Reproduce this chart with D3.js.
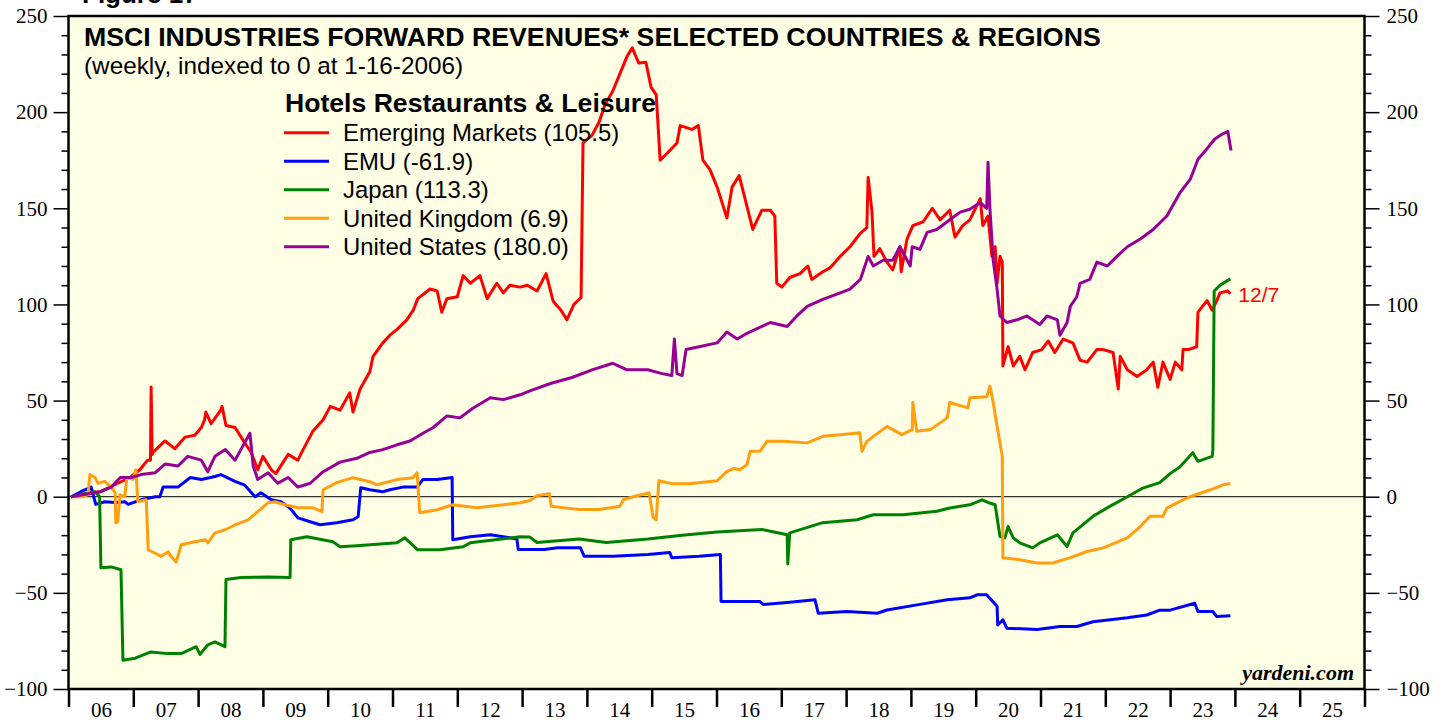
<!DOCTYPE html>
<html>
<head>
<meta charset="utf-8">
<script src="https://cdn.jsdelivr.net/npm/d3@7"></script>
<style>
  body { margin: 0; background: #fff; }
  svg { display: block; }
</style>
</head>
<body>
<script>
const width = 1440, height = 721;

// [decimal year, index value]
const emergingMarkets = [
  [2006.04,0],[2006.30,2],[2006.50,2.6],[2006.76,7],[2006.95,10],[2007.10,14],[2007.22,19],[2007.265,19],[2007.275,57],[2007.29,22],
  [2007.30,23],[2007.49,29],[2007.64,25],[2007.80,31],[2007.95,32],[2008.05,36],[2008.10,40],[2008.12,44],[2008.20,38],[2008.35,45],
  [2008.37,47],[2008.43,37],[2008.57,36],[2008.72,28],[2008.82,23],[2008.92,14],[2009.00,21],[2009.13,14],[2009.20,12],[2009.39,22],
  [2009.54,19],[2009.62,24.5],[2009.77,34],[2009.93,40],[2010.04,47],[2010.19,45],[2010.34,54],[2010.39,44],[2010.50,56],[2010.65,65],
  [2010.70,73],[2010.85,80],[2010.96,84],[2011.07,87],[2011.22,92],[2011.32,97],[2011.39,103],[2011.58,108],[2011.69,107],[2011.76,96],
  [2011.84,103],[2012.00,104],[2012.09,115],[2012.20,111],[2012.35,115],[2012.46,103],[2012.61,111],[2012.71,106],[2012.81,110],[2012.97,109],
  [2013.08,110],[2013.23,107],[2013.37,116],[2013.48,101.6],[2013.60,97],[2013.69,92],[2013.80,100],[2013.91,103.6],[2013.94,184],[2014.08,188],
  [2014.19,195],[2014.28,204],[2014.40,211],[2014.51,220],[2014.62,229],[2014.70,233.5],[2014.80,225.5],[2014.91,226],[2014.99,213],[2015.07,209],
  [2015.13,175],[2015.25,179],[2015.39,184],[2015.44,193],[2015.62,191],[2015.72,193],[2015.79,175],[2015.90,170],[2016.01,161],[2016.16,145],
  [2016.24,161],[2016.35,167],[2016.47,151],[2016.56,139],[2016.70,149],[2016.83,149],[2016.90,146],[2016.93,111],[2017.01,109],[2017.13,114],
  [2017.29,116],[2017.41,120],[2017.47,113],[2017.64,117],[2017.75,119],[2017.91,125],[2018.06,130],[2018.22,137],[2018.32,140],[2018.34,166],
  [2018.40,148],[2018.43,125],[2018.52,129],[2018.63,122],[2018.72,118],[2018.83,130],[2018.85,117],[2018.94,134],[2019.03,141],[2019.19,143],
  [2019.33,150],[2019.45,144],[2019.60,149],[2019.68,135],[2019.80,141],[2019.91,144],[2020.07,155],[2020.11,141],[2020.19,146],[2020.25,125],
  [2020.30,130],[2020.33,111],[2020.375,125],[2020.41,122],[2020.42,68],[2020.50,78],[2020.58,68],[2020.68,73],[2020.76,66],[2020.88,75],
  [2021.02,76.5],[2021.12,81],[2021.22,75],[2021.35,82],[2021.50,80],[2021.61,71],[2021.72,70],[2021.87,76.5],[2021.97,76.5],[2022.12,75],
  [2022.20,56],[2022.23,73],[2022.34,66],[2022.49,62.5],[2022.64,66],[2022.74,70],[2022.81,57],[2022.89,70],[2023.00,61],[2023.08,70],
  [2023.18,66],[2023.20,76.5],[2023.28,76.5],[2023.41,78],[2023.43,96],[2023.57,102],[2023.65,97],[2023.72,102],[2023.77,106],[2023.89,107],
  [2023.93,105.5]
];

const emu = [
  [2006.04,0],[2006.19,2.6],[2006.35,5],[2006.42,-4],[2006.56,-2.6],[2006.72,-3],[2006.87,-2.6],[2006.92,-4],[2007.12,-1.6],[2007.34,0],
  [2007.41,0],[2007.46,5],[2007.69,5],[2007.88,10],[2008.05,9],[2008.26,10.5],[2008.35,11.5],[2008.57,8],[2008.72,6],[2008.88,0],
  [2008.97,2],[2009.13,-1.6],[2009.28,-2.6],[2009.42,-6],[2009.54,-11],[2009.73,-13],[2009.88,-14.6],[2010.14,-13.5],[2010.39,-12],[2010.47,-10.4],
  [2010.51,4.7],[2010.65,3.6],[2010.85,2.6],[2010.96,3.6],[2011.16,5],[2011.38,5],[2011.47,9],[2011.69,9],[2011.92,10],[2011.93,-22.4],
  [2012.20,-20.8],[2012.51,-19.8],[2012.71,-20.8],[2012.92,-22],[2012.94,-27.4],[2013.34,-27.4],[2013.55,-26.6],[2013.90,-26.6],[2013.96,-31],[2014.40,-31],
  [2014.94,-30],[2015.28,-29],[2015.31,-31.8],[2015.73,-31],[2016.06,-30],[2016.07,-54.5],[2016.67,-54.5],[2016.72,-56],[2017.09,-55],[2017.52,-53.6],
  [2017.57,-60.6],[2018.01,-59.7],[2018.48,-60.6],[2018.63,-58.9],[2019.14,-56],[2019.56,-53.6],[2019.91,-52.6],[2020.02,-51],[2020.17,-51],[2020.33,-57],
  [2020.34,-66.7],[2020.42,-64],[2020.48,-68.4],[2020.95,-69],[2021.30,-67.5],[2021.56,-67.5],[2021.81,-65],[2022.34,-63],[2022.64,-61.5],[2022.84,-59],
  [2023.00,-59],[2023.38,-55.4],[2023.43,-59.7],[2023.66,-59.7],[2023.72,-62.3],[2023.93,-61.9]
];

const japan = [
  [2006.04,0],[2006.30,2],[2006.41,2.6],[2006.48,0],[2006.50,-37],[2006.66,-36.5],[2006.81,-38],[2006.84,-85],[2007.03,-84],[2007.27,-80.7],
  [2007.53,-81.6],[2007.74,-81.6],[2007.97,-78],[2008.03,-82],[2008.15,-77],[2008.26,-75.5],[2008.415,-78],[2008.43,-43],[2008.66,-42],[2009.08,-41.7],
  [2009.42,-42],[2009.43,-22.4],[2009.68,-20.8],[2010.08,-23.4],[2010.19,-26],[2010.45,-25.5],[2011.07,-24],[2011.19,-21.4],[2011.39,-27.6],[2011.73,-27.6],
  [2012.09,-26],[2012.20,-24],[2012.97,-20.8],[2013.12,-21],[2013.23,-23.8],[2013.88,-22],[2014.30,-23.8],[2014.94,-22],[2015.47,-20],[2016.01,-18.4],
  [2016.49,-17.5],[2016.70,-17],[2017.09,-19.8],[2017.10,-35],[2017.13,-18.8],[2017.64,-13.5],[2018.17,-12],[2018.42,-9.4],[2018.88,-9.4],[2019.40,-7.6],
  [2019.60,-5.9],[2019.91,-4.2],[2020.10,-1.6],[2020.19,-3],[2020.30,-4.2],[2020.375,-20.7],[2020.45,-21.4],[2020.50,-15.5],[2020.58,-21.4],[2020.68,-24],
  [2020.88,-26.6],[2020.99,-24],[2021.26,-19.8],[2021.41,-25.9],[2021.50,-18.8],[2021.81,-10.2],[2022.07,-5],[2022.34,0],[2022.58,4.5],[2022.84,7.3],
  [2023.00,12],[2023.15,15.5],[2023.35,22.9],[2023.43,18.4],[2023.65,21],[2023.66,24.5],[2023.68,107],[2023.77,110],[2023.93,113.3]
];

const unitedKingdom = [
  [2006.04,0],[2006.19,0],[2006.30,1],[2006.33,11.5],[2006.41,10],[2006.455,7],[2006.56,8],[2006.66,5],[2006.72,2],[2006.73,-13.5],
  [2006.76,-13],[2006.795,1],[2006.87,0],[2006.90,10],[2006.995,9],[2007.04,14],[2007.07,-2.6],[2007.20,-1.6],[2007.23,-27.6],[2007.43,-31],
  [2007.54,-28.6],[2007.58,-31],[2007.66,-34],[2007.74,-25],[2007.95,-23.4],[2008.11,-22.4],[2008.15,-24],[2008.26,-18.8],[2008.42,-17.2],[2008.57,-14.6],
  [2008.77,-12],[2008.92,-7.8],[2009.08,-3.1],[2009.19,-2.6],[2009.34,-4.2],[2009.54,-5.7],[2009.77,-5.7],[2009.91,-7.8],[2009.93,3.6],[2010.14,7.3],
  [2010.39,9.9],[2010.65,7.8],[2010.76,6.2],[2011.07,8.9],[2011.32,9.9],[2011.38,12.5],[2011.42,-8.3],[2011.69,-6.8],[2011.93,-4.2],[2012.30,-5.7],
  [2012.71,-4.2],[2012.97,-3.1],[2013.12,-2],[2013.23,0.5],[2013.42,1.6],[2013.45,-5],[2013.66,-5.8],[2013.88,-6.7],[2014.19,-6.7],[2014.51,-5],
  [2014.56,-1.6],[2014.77,0.5],[2014.96,2],[2015.02,-10.5],[2015.07,-12],[2015.11,8.3],[2015.31,6.8],[2015.58,6.8],[2015.79,7.5],[2016.01,8.3],
  [2016.16,13],[2016.27,14.7],[2016.36,14],[2016.47,16.7],[2016.52,23.6],[2016.67,23.6],[2016.78,28.8],[2017.03,28.8],[2017.40,28],[2017.64,31.4],
  [2017.95,32.3],[2018.21,33.3],[2018.245,23.6],[2018.32,28.8],[2018.63,36.6],[2018.86,32.3],[2019.02,34.9],[2019.03,49],[2019.09,34],[2019.30,34.9],
  [2019.56,41],[2019.60,49],[2019.80,47],[2019.88,46.3],[2019.91,51.5],[2020.17,52],[2020.22,57.5],[2020.27,49],[2020.33,36.6],[2020.41,21],
  [2020.42,-31.8],[2020.68,-32.8],[2020.95,-34.5],[2021.19,-34.5],[2021.45,-31.8],[2021.72,-28.5],[2021.97,-26.6],[2022.34,-21.4],[2022.54,-15.5],[2022.69,-10.2],
  [2022.89,-10.2],[2022.95,-5.9],[2023.15,-2.4],[2023.31,0],[2023.62,3.6],[2023.82,6.2],[2023.93,6.9]
];

const unitedStates = [
  [2006.04,0],[2006.49,2.6],[2006.66,5],[2006.80,10],[2006.97,10],[2007.12,11.5],[2007.34,12.5],[2007.49,17],[2007.69,16],[2007.84,21],
  [2008.05,19],[2008.15,13],[2008.26,21],[2008.42,24.5],[2008.57,19],[2008.66,24.5],[2008.80,33],[2008.85,16],[2008.92,9],[2009.08,12.5],
  [2009.23,7],[2009.39,10],[2009.54,5],[2009.73,7],[2009.93,13],[2010.19,18],[2010.45,20],[2010.65,23],[2010.85,24.5],[2011.07,27],
  [2011.27,29],[2011.47,33],[2011.63,36],[2011.84,42],[2012.04,41],[2012.24,46],[2012.51,51.5],[2012.71,50.5],[2012.97,53],[2013.12,55],
  [2013.45,59],[2013.77,62],[2014.08,66],[2014.40,69.4],[2014.62,66],[2014.94,66],[2015.16,64],[2015.31,63],[2015.35,82],[2015.39,64],
  [2015.47,63],[2015.53,76.6],[2015.73,78],[2016.01,80],[2016.16,85.6],[2016.32,82],[2016.47,85],[2016.83,90.6],[2017.09,88.5],[2017.24,94],
  [2017.40,99],[2017.64,102.6],[2017.91,106],[2018.06,108],[2018.22,113],[2018.34,125],[2018.42,120],[2018.57,123],[2018.72,123],[2018.83,130],
  [2018.99,120],[2019.02,130],[2019.14,128.6],[2019.25,137.5],[2019.40,139],[2019.56,143],[2019.76,148],[2019.91,149.5],[2020.07,153],[2020.17,150],
  [2020.19,174],[2020.22,149.5],[2020.27,123],[2020.33,108],[2020.375,94],[2020.48,90.6],[2020.64,92],[2020.79,94],[2020.99,89.6],[2021.10,94],
  [2021.26,92],[2021.30,84],[2021.41,90.6],[2021.46,99],[2021.56,104],[2021.61,111],[2021.76,113],[2021.87,122],[2022.03,120],[2022.18,125],
  [2022.34,130],[2022.54,134],[2022.74,139],[2022.95,146],[2023.15,158],[2023.31,165],[2023.43,175.5],[2023.57,181],[2023.69,186],[2023.80,188.5],
  [2023.89,190],[2023.94,180]
];

const seriesNames = ["Emerging Markets (105.5)", "EMU (-61.9)", "Japan (113.3)", "United Kingdom (6.9)", "United States (180.0)"];
const seriesColours = ["#ff0000", "#0000ff", "#008000", "#ff9f10", "#960096"];
const yearLabels = ["06","07","08","09","10","11","12","13","14","15","16","17","18","19","20","21","22","23","24","25"];

const allSeries = [emergingMarkets, emu, japan, unitedKingdom, unitedStates];

const plot = {left: 68.5, right: 1364.5, top: 16, bottom: 689};

const x = d3.scaleLinear().domain([2006, 2026]).range([plot.left, plot.right]);
const y = d3.scaleLinear().domain([-100, 250]).range([plot.bottom, plot.top]);

const svg = d3.select("body").append("svg")
    .attr("width", width)
    .attr("height", height)
    .style("font-family", "'Liberation Sans', Arial, sans-serif");

svg.append("rect")
    .attr("x", plot.left).attr("y", plot.top)
    .attr("width", plot.right - plot.left).attr("height", plot.bottom - plot.top)
    .attr("fill", "#fefee4");

svg.append("defs").append("clipPath").attr("id", "clip")
  .append("rect")
    .attr("x", plot.left).attr("y", plot.top)
    .attr("width", plot.right - plot.left).attr("height", plot.bottom - plot.top);

// zero line
svg.append("line")
    .attr("x1", plot.left).attr("x2", plot.right)
    .attr("y1", y(0)).attr("y2", y(0))
    .attr("stroke", "#000").attr("stroke-width", 1);

// y axes, major + minor, both sides
const majorTicks = d3.range(-100, 251, 50);
const minorTicks = d3.range(-100, 251, 10).filter(v => v % 50 !== 0);

function styleAxis(g) {
  g.select(".domain").remove();
  g.selectAll(".tick line").attr("stroke", "#000").attr("stroke-width", 1.5);
  g.selectAll(".tick text")
    .attr("fill", "#000")
    .style("font-family", "'Liberation Serif', 'Times New Roman', serif")
    .style("font-size", "21px");
}

svg.append("g").attr("transform", `translate(${plot.left},0)`)
    .call(d3.axisLeft(y).tickValues(majorTicks).tickSize(15).tickPadding(6))
    .call(styleAxis);
svg.append("g").attr("transform", `translate(${plot.left},0)`)
    .call(d3.axisLeft(y).tickValues(minorTicks).tickSize(7).tickFormat(""))
    .call(styleAxis);
svg.append("g").attr("transform", `translate(${plot.right},0)`)
    .call(d3.axisRight(y).tickValues(majorTicks).tickSize(15).tickPadding(7))
    .call(styleAxis);
svg.append("g").attr("transform", `translate(${plot.right},0)`)
    .call(d3.axisRight(y).tickValues(minorTicks).tickSize(7).tickFormat(""))
    .call(styleAxis);

// x axis: year boundaries as ticks, labels mid-year
svg.append("g").attr("transform", `translate(0,${plot.bottom})`)
    .call(d3.axisBottom(x).tickValues(d3.range(2006, 2027)).tickSize(18).tickFormat(""))
    .call(styleAxis)
    .call(g => g.selectAll(".tick line").attr("stroke-width", 2.5));
svg.append("g").attr("transform", `translate(0,${plot.bottom})`)
    .call(d3.axisBottom(x).tickValues(d3.range(2006, 2026).map(v => v + 0.5)).tickSize(0).tickPadding(13)
        .tickFormat((d, i) => yearLabels[i]))
    .call(styleAxis);

// series
const line = d3.line().x(d => x(d[0])).y(d => y(d[1]));
svg.append("g").attr("clip-path", "url(#clip)")
  .selectAll("path")
  .data(allSeries)
  .join("path")
    .attr("d", line)
    .attr("fill", "none")
    .attr("stroke", (d, i) => seriesColours[i])
    .attr("stroke-width", 3)
    .attr("stroke-linejoin", "round");

// frame
svg.append("rect")
    .attr("x", plot.left).attr("y", plot.top)
    .attr("width", plot.right - plot.left).attr("height", plot.bottom - plot.top)
    .attr("fill", "none").attr("stroke", "#000").attr("stroke-width", 2.5);

// titles
svg.append("text").attr("x", 82).attr("y", 3)
    .style("font-size", "26px").style("font-weight", "bold")
    .text("Figure 17");
svg.append("text").attr("x", 84).attr("y", 46)
    .style("font-size", "26.7px").style("font-weight", "bold")
    .text("MSCI INDUSTRIES FORWARD REVENUES* SELECTED COUNTRIES & REGIONS");
svg.append("text").attr("x", 84).attr("y", 74)
    .style("font-size", "24.3px")
    .text("(weekly, indexed to 0 at 1-16-2006)");

// legend
const legend = svg.append("g");
legend.append("text").attr("x", 285).attr("y", 112)
    .style("font-size", "26.6px").style("font-weight", "bold")
    .text("Hotels Restaurants & Leisure");
const rows = legend.selectAll("g.row")
  .data(seriesNames)
  .join("g").attr("class", "row")
    .attr("transform", (d, i) => `translate(0,${132.7 + i * 28.5})`);
rows.append("line")
    .attr("x1", 284).attr("x2", 329)
    .attr("stroke", (d, i) => seriesColours[i]).attr("stroke-width", 3);
rows.append("text")
    .attr("x", 343).attr("y", 8.5)
    .style("font-size", "23.9px")
    .text(d => d);

// end date label
svg.append("text")
    .attr("x", x(2023.93) + 8).attr("y", y(105.5) + 8)
    .attr("fill", "#ff0000")
    .style("font-size", "21px")
    .text("12/7");

svg.append("text")
    .attr("x", 1354).attr("y", 680)
    .attr("text-anchor", "end")
    .style("font-family", "'Liberation Serif', 'Times New Roman', serif")
    .style("font-size", "22px").style("font-weight", "bold").style("font-style", "italic")
    .text("yardeni.com");
</script>
</body>
</html>
